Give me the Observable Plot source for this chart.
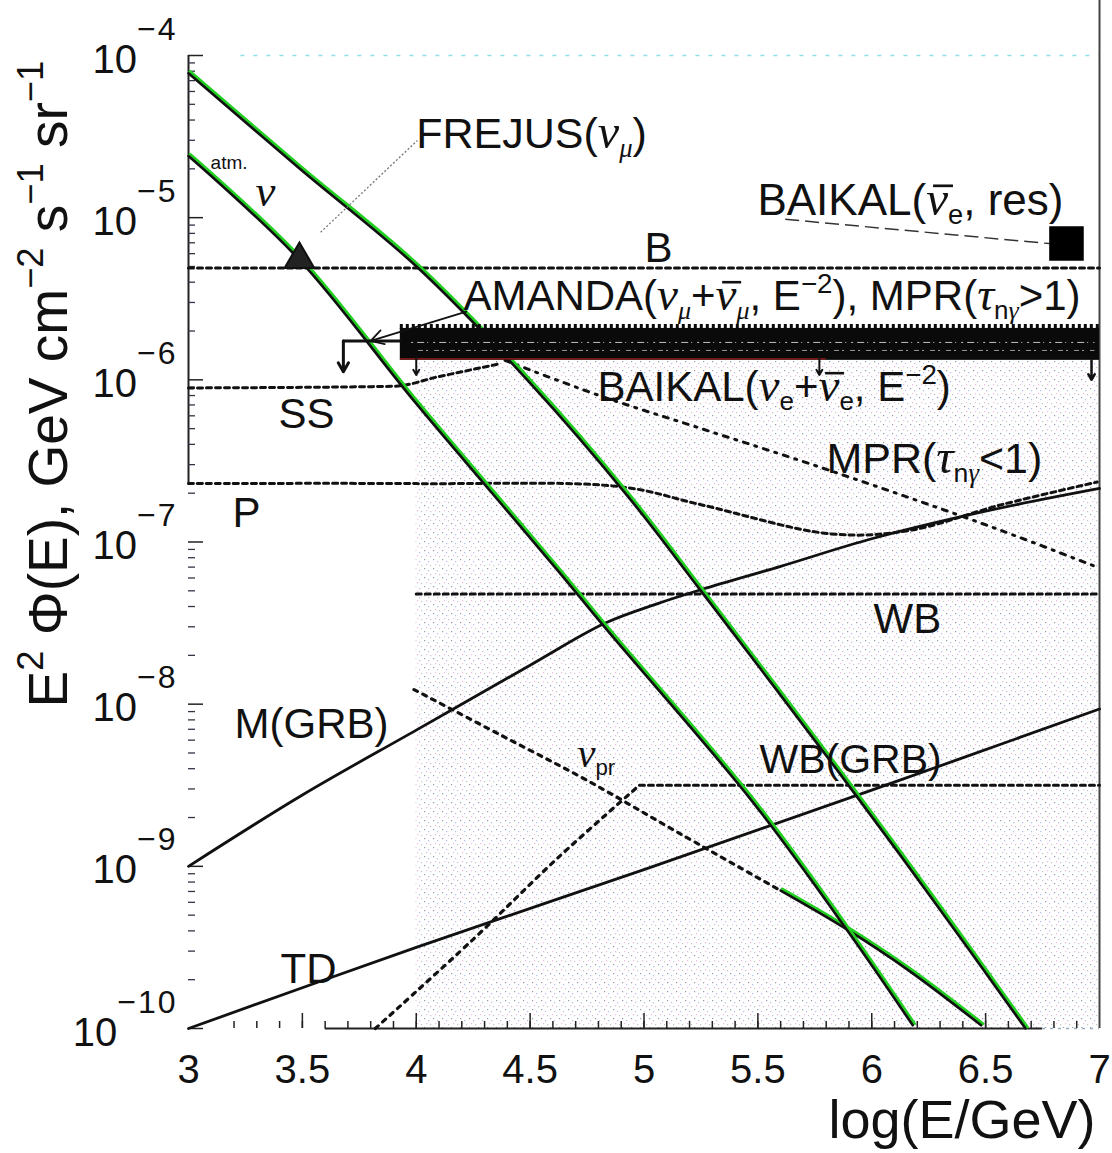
<!DOCTYPE html>
<html><head><meta charset="utf-8">
<script src="https://cdn.jsdelivr.net/npm/d3@7"></script>
<script src="https://cdn.jsdelivr.net/npm/@observablehq/plot@0.6"></script>
<style>
html,body{margin:0;padding:0;background:#fff;}
#chart svg{display:block;}
</style></head><body><div id="chart"></div>
<script>
// ---- data: x = log10(E/GeV), y = log10(E^2 Phi) ----
const xTicks = [3, 3.5, 4, 4.5, 5, 5.5, 6, 6.5, 7];
const xMinor = d3.range(30, 71).map(d => d / 10);
const yDecades = [-10, -9, -8, -7, -6, -5, -4];

const atmUpX = [3.0, 3.49, 4.0, 4.5, 4.93, 5.26, 5.85, 6.26, 6.675];
const atmUpY = [-4.11, -4.70, -5.30, -6.02, -6.72, -7.32, -8.41, -9.19, -10.0];
const atmLoX = [3.0, 3.48, 3.99, 4.34, 4.63, 4.83, 5.47, 5.885, 6.18];
const atmLoY = [-4.62, -5.25, -6.13, -6.71, -7.19, -7.53, -8.59, -9.38, -9.98];
const nuPrX = [3.99, 4.37, 4.75, 5.16, 5.6];
const nuPrY = [-7.91, -8.19, -8.47, -8.80, -9.15];
const nuPr2X = [5.6, 5.88, 6.16, 6.48];
const nuPr2Y = [-9.15, -9.38, -9.64, -9.98];
const wbGrbRiseX = [3.82, 4.25, 4.62, 4.98];
const wbGrbRiseY = [-10.0, -9.45, -8.95, -8.50];
const wbGrbFlatX = [4.98, 7.0];
const wbGrbFlatY = [-8.50, -8.50];
const wbX = [4.0, 7.0];
const wbY = [-7.32, -7.32];
const bX = [3.0, 7.0];
const bY = [-5.31, -5.31];
const ssX = [3.0, 3.9, 4.1, 4.37];
const ssY = [-6.05, -6.04, -5.98, -5.90];
const pX = [3.0, 4.0, 4.9, 5.25, 5.82, 6.16, 6.57, 6.99];
const pY = [-6.64, -6.64, -6.66, -6.77, -6.95, -6.93, -6.77, -6.63];
const mprLoX = [4.39, 4.81, 5.25, 5.69, 6.13, 6.57, 6.99];
const mprLoY = [-5.88, -6.10, -6.30, -6.50, -6.71, -6.93, -7.155];
const mGrbX = [3.0, 3.5, 4.0, 4.5, 4.83, 5.06, 5.26, 5.6, 6.0, 6.5, 7.0];
const mGrbY = [-9.0, -8.56, -8.16, -7.76, -7.50, -7.38, -7.29, -7.15, -6.98, -6.81, -6.67];
const tdX = [3.0, 4.0, 5.0, 6.0, 7.0];
const tdY = [-10.0, -9.50, -9.02, -8.53, -8.03];

// AMANDA limit band and BAIKAL / FREJUS points
const amandaX = [3.93, 7.0];
const amandaTop = -5.683, amandaBottom = -5.88, amandaHook = -5.76;
const amandaHookX = [3.68, 3.93];
const frejusPt = {x: 3.487, y: -5.258};
const baikalResPt = {x: 6.855, y: -5.159};

// annotations (data coordinates)
const labelText = ["FREJUS(ν_{μ})", "BAIKAL(ν\u0304_{e}, res)", "B",
  "AMANDA(ν_{μ}+ν\u0304_{μ}, E^{−2}), MPR(τ_{nγ}>1)", "BAIKAL(ν_{e}+ν\u0304_{e}, E^{−2})",
  "MPR(τ_{nγ}<1)", "SS", "P", "WB", "M(GRB)", "WB(GRB)", "TD"];
const labelX = [4.0, 5.498, 5.002, 4.207, 4.796, 5.801, 3.395, 3.193, 6.008, 3.202, 5.507, 3.404];
const labelY = [-4.573, -4.986, -5.276, -5.572, -6.133, -6.577, -6.300, -6.910, -7.564, -8.211, -8.427, -9.721];
const labelSize = [43, 44, 42, 42, 42, 43, 42, 42, 42, 42, 41, 42];

const P = (xs, ys) => xs.map((x, i) => ({x, y: 10 ** ys[i]}));
const labels = labelText.map((t, i) => ({t, x: labelX[i], y: 10 ** labelY[i], s: labelSize[i]}));

const K = "#111";
const dash = {stroke: K, strokeWidth: 3, strokeDasharray: "5,4"};
const pxY = 162.2, pxX = 227.75; // pixels per decade / per unit (for tick lengths)
const CURVE = "catmull-rom";

const yMinor = [];
for (const d of yDecades.slice(0, -1)) for (let k = 2; k <= 9; k++) yMinor.push(k * 10 ** d);

const greenLine = (data) => [
  Plot.line(data, {x: "x", y: "y", curve: CURVE, stroke: "#22d022", strokeWidth: 3.2, dx: 1.6, dy: -1.6}),
  Plot.line(data, {x: "x", y: "y", curve: CURVE, stroke: K, strokeWidth: 2.6})
];

const chart = Plot.plot({
  width: 1112, height: 1153,
  marginLeft: 188, marginRight: 13, marginTop: 55, marginBottom: 125,
  x: {domain: [3, 7], axis: null},
  y: {type: "log", domain: [1e-10, 1e-4], axis: null},
  style: {fontFamily: "Liberation Sans, Arial, sans-serif", background: "white", color: K},
  marks: [
    Plot.rect([{x1: 4, x2: 7, y1: 1e-10, y2: 10 ** amandaBottom}], {x1: "x1", x2: "x2", y1: "y1", y2: "y2", fill: "url(#stip)"}),
    // frame pieces
    Plot.ruleY([1e-4], {x1: 3.23, x2: 7, stroke: "#8fe0ea", strokeWidth: 1.5, strokeDasharray: "4,9"}),
    Plot.ruleX([3], {y1: 10 ** -6.64, y2: 1e-4, stroke: "#222", strokeWidth: 2}),
    Plot.ruleX([7], {y1: 1e-10, y2: 10 ** -3.66, stroke: "#444", strokeWidth: 2}),
    Plot.ruleY([1e-10], {x1: 3.6, x2: 6.75, stroke: "#222", strokeWidth: 2}),
    Plot.ruleY([1e-10], {x1: 6.75, x2: 7, stroke: "#9ab", strokeWidth: 1.5, strokeDasharray: "3,5"}),
    // ticks
    Plot.ruleX(xMinor.filter(d => d >= 3.2 && d < 7), {x: d => d, y1: 1e-10, y2: 10 ** (-10 + 7 / pxY), stroke: "#222", strokeWidth: 1.5}),
    Plot.ruleX(xTicks.slice(1, -1), {x: d => d, y1: 1e-10, y2: 10 ** (-10 + 15 / pxY), stroke: "#222", strokeWidth: 1.5}),
    Plot.ruleY(yDecades.map(d => 10 ** d), {y: d => d, x1: 3, x2: 3 + 15 / pxX, stroke: "#222", strokeWidth: 1.5}),
    Plot.ruleY(yMinor, {y: d => d, x1: 3, x2: 3 + 7 / pxX, stroke: "#334", strokeWidth: 1.3}),
    // tick labels
    Plot.text(xTicks, {x: d => d, y: 1e-10, text: d => String(d), lineAnchor: "top", dy: 26, fontSize: 40, fill: K}),
    Plot.text(yDecades, {x: 3, y: d => 10 ** d, text: d => `10^{−${-d}}`, textAnchor: "end", lineAnchor: "bottom", dx: -11, dy: 17, fontSize: 40, fill: K}),
    // axis titles
    Plot.text(["log(E/GeV)"], {x: 7, y: 1e-10, text: d => d, textAnchor: "end", lineAnchor: "bottom", dx: -4, dy: 109, fontSize: 54, fill: K}),
    Plot.text(["E^{2} Φ(E), GeV cm^{−2} s^{−1} sr^{−1}"], {x: 3, y: 10 ** -8.02, text: d => d, textAnchor: "start", lineAnchor: "bottom", rotate: -90, dx: -122, fontSize: 55, fill: K}),
    // horizontal / model curves
    Plot.line(P(bX, bY), {x: "x", y: "y", ...dash}),
    Plot.line(P(ssX, ssY), {x: "x", y: "y", curve: "monotone-x", ...dash}),
    Plot.line(P(pX, pY), {x: "x", y: "y", curve: CURVE, ...dash}),
    Plot.line(P(wbX, wbY), {x: "x", y: "y", ...dash}),
    Plot.line(P(wbGrbFlatX, wbGrbFlatY), {x: "x", y: "y", ...dash}),
    Plot.line(P(wbGrbRiseX, wbGrbRiseY), {x: "x", y: "y", curve: CURVE, stroke: K, strokeWidth: 3.2, strokeDasharray: "4,6"}),
    Plot.line(P(mprLoX, mprLoY), {x: "x", y: "y", curve: CURVE, stroke: K, strokeWidth: 3, strokeDasharray: "5,7,2,7"}),
    Plot.line(P(nuPrX, nuPrY), {x: "x", y: "y", curve: CURVE, stroke: K, strokeWidth: 3.2, strokeDasharray: "4,6"}),
    Plot.line(P(mGrbX, mGrbY), {x: "x", y: "y", curve: CURVE, stroke: K, strokeWidth: 2.8}),
    Plot.line(P(tdX, tdY), {x: "x", y: "y", curve: CURVE, stroke: K, strokeWidth: 2.8}),
    ...greenLine(P(nuPr2X, nuPr2Y)),
    ...greenLine(P(atmUpX, atmUpY)),
    ...greenLine(P(atmLoX, atmLoY)),
    // AMANDA band
    Plot.rect([{x1: amandaX[0], x2: amandaX[1], y1: 10 ** amandaBottom, y2: 10 ** amandaTop}], {x1: "x1", x2: "x2", y1: "y1", y2: "y2", fill: "#0a0a0a"}),
    Plot.ruleY([10 ** (amandaTop + 2 / pxY)], {x1: amandaX[0], x2: amandaX[1], stroke: "#0a0a0a", strokeWidth: 5, strokeDasharray: "3,3"}),
    Plot.ruleY([10 ** (amandaTop - 14 / pxY)], {x1: amandaX[0] + 0.05, x2: amandaX[1] - 0.02, stroke: "#fff", strokeWidth: 1, strokeOpacity: 0.75, strokeDasharray: "2,4,7,3,1,5"}),
    Plot.ruleY([10 ** (amandaTop - 22 / pxY)], {x1: amandaX[0] + 0.08, x2: amandaX[1] - 0.02, stroke: "#fff", strokeWidth: 1, strokeOpacity: 0.6, strokeDasharray: "5,3,2,6"}),
    Plot.ruleY([10 ** (amandaBottom + 1.5 / pxY)], {x1: amandaX[0], x2: 5.8, stroke: "#d22", strokeWidth: 1.3, strokeOpacity: 0.7}),
    Plot.line(P(amandaHookX, [amandaHook, amandaHook]), {x: "x", y: "y", stroke: K, strokeWidth: 3}),
    Plot.arrow([{x: amandaHookX[0]}], {x1: "x", x2: "x", y1: 10 ** amandaHook, y2: 10 ** -5.95, stroke: K, strokeWidth: 3, headLength: 8}),
    Plot.arrow([{x: 6.965}], {x1: "x", x2: "x", y1: 10 ** amandaBottom, y2: 10 ** -6.0, stroke: K, strokeWidth: 2.5, headLength: 7}),
    Plot.arrow([{x: 4.0}, {x: 5.77}], {x1: "x", x2: "x", y1: 10 ** -5.86, y2: 10 ** -5.97, stroke: K, strokeWidth: 2, headLength: 6}),
    Plot.arrow([{}], {x1: 4.22, y1: 10 ** -5.58, x2: 3.80, y2: 10 ** -5.76, stroke: K, strokeWidth: 1.8, headLength: 12}),
    // FREJUS + BAIKAL points and leaders
    Plot.link([{}], {x1: 3.58, y1: 10 ** -5.09, x2: 4.005, y2: 10 ** -4.524, stroke: "#777", strokeWidth: 1.3, strokeDasharray: "2,2"}),
    Plot.link([{}], {x1: 5.62, y1: 10 ** -5.01, x2: 6.78, y2: 10 ** -5.16, stroke: "#333", strokeWidth: 1.5, strokeDasharray: "14,6"}),
    Plot.dot([frejusPt], {x: "x", y: d => 10 ** d.y, symbol: "triangle", r: 11, fill: "#222", stroke: K, strokeWidth: 2}),
    Plot.dot([baikalResPt], {x: "x", y: d => 10 ** d.y, symbol: "square", r: 19.5, fill: "#000"}),
    // labels
    Plot.text(labels, {x: "x", y: "y", text: "t", fontSize: "s", textAnchor: "start", lineAnchor: "bottom", fill: K}),
    Plot.text(["ν_{pr}"], {x: 4.708, y: 10 ** -8.39, text: d => d, textAnchor: "start", lineAnchor: "bottom", fontSize: 36, fill: K}),
    Plot.text(["atm."], {x: 3.097, y: 10 ** -4.697, text: d => d, textAnchor: "start", lineAnchor: "bottom", fontSize: 19, fill: K}),
    Plot.text(["ν"], {x: 3.294, y: 10 ** -4.925, text: d => d, textAnchor: "start", lineAnchor: "bottom", fontSize: 40, fill: K})
  ]
});

document.getElementById("chart").appendChild(chart);

// stipple pattern for the shaded region
const defs = d3.select(chart).insert("defs", ":first-child");
const pat = defs.append("pattern").attr("id", "stip").attr("width", 9).attr("height", 9).attr("patternUnits", "userSpaceOnUse");
pat.append("rect").attr("width", 9).attr("height", 9).attr("fill", "#fff");
[[1, 1, "#9a9aaa"], [5, 3, "#b8bcf0"], [3, 6, "#f0bce2"], [7, 7, "#c4c4c4"]].forEach(([x, y, c]) =>
  pat.append("rect").attr("x", x).attr("y", y).attr("width", 1.2).attr("height", 1.2).attr("fill", c));

// rich text: ^{sup}, _{sub}, italic serif Greek; overbars drawn as short strokes
const NS = "http://www.w3.org/2000/svg";
const GREEK = /([ντμγ]\u0304?)/;
const bars = [];
d3.select(chart).selectAll("text").each(function () {
  const el = this;
  const raw = el.textContent;
  if (!/[\^_]\{/.test(raw) && !GREEK.test(raw)) return;
  const fs = parseFloat(el.getAttribute("font-size")) || parseFloat(getComputedStyle(el).fontSize) || 40;
  const isTick = raw.startsWith("10^{");
  const supScale = isTick ? 0.8 : 0.66;
  const supShift = isTick ? 33 : 0.42 * fs;
  const subScale = 0.62, subShift = 0.2 * fs;
  el.textContent = "";
  const parts = raw.split(/(\^\{[^}]*\}|_\{[^}]*\})/).filter(s => s.length);
  let offset = 0;
  for (const p of parts) {
    let kind = "n", s = p;
    if (p.startsWith("^{")) { kind = "sup"; s = p.slice(2, -1); }
    else if (p.startsWith("_{")) { kind = "sub"; s = p.slice(2, -1); }
    const target = kind === "sup" ? -supShift : kind === "sub" ? subShift : 0;
    const size = kind === "sup" ? fs * supScale : kind === "sub" ? fs * subScale : fs;
    const chunks = s.split(GREEK).filter(c => c.length);
    for (const c of chunks) {
      const greek = /^[ντμγ]/.test(c);
      const bar = c.includes("\u0304");
      const sz = greek && kind === "n" ? size * 1.12 : size;
      const t = document.createElementNS(NS, "tspan");
      t.textContent = bar ? c.replace("\u0304", "") : c;
      t.setAttribute("font-size", sz);
      if (target - offset) t.setAttribute("dy", target - offset);
      if (greek) { t.setAttribute("font-family", "Liberation Serif, serif"); t.setAttribute("font-style", "italic"); }
      if (isTick && kind === "sup") t.setAttribute("letter-spacing", "2");
      el.appendChild(t);
      offset = target;
      if (bar) bars.push({el, t, sz});
    }
  }
});
for (const {el, t, sz} of bars) {
  const pos = t.getStartPositionOfChar(0);
  const w = t.getComputedTextLength();
  const ln = document.createElementNS(NS, "line");
  ln.setAttribute("x1", pos.x + 0.14 * sz);
  ln.setAttribute("x2", pos.x + w + 0.1 * sz);
  ln.setAttribute("y1", pos.y - 0.6 * sz);
  ln.setAttribute("y2", pos.y - 0.6 * sz);
  ln.setAttribute("stroke", K);
  ln.setAttribute("stroke-width", Math.max(1.6, 0.055 * sz));
  const tr = el.getAttribute("transform");
  if (tr) ln.setAttribute("transform", tr);
  el.parentNode.appendChild(ln);
}
</script></body></html>
